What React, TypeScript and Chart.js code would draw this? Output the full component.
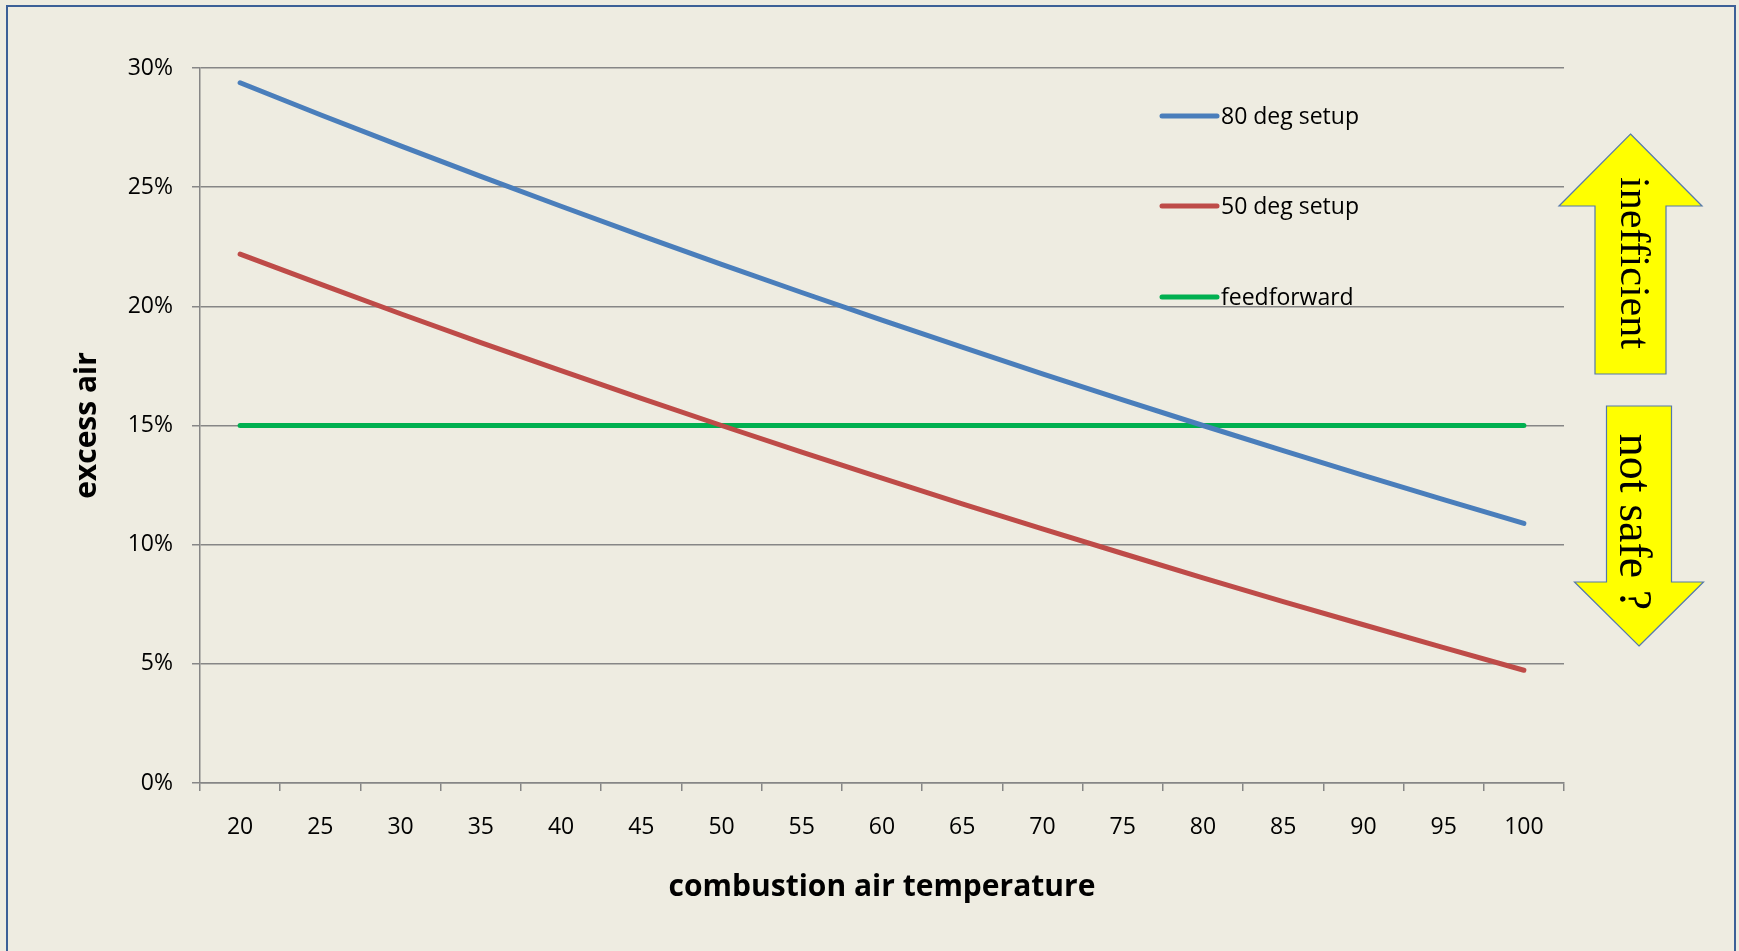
import React, { useEffect, useRef } from "react";
import { Chart, registerables } from "chart.js";

Chart.register(...registerables);

// ---- data ----
const temperatures = ["20", "25", "30", "35", "40", "45", "50", "55", "60", "65", "70", "75", "80", "85", "90", "95", "100"];
const setup80 = [29.38, 28.04, 26.73, 25.45, 24.2, 22.97, 21.76, 20.58, 19.42, 18.29, 17.17, 16.07, 15.0, 13.95, 12.91, 11.89, 10.89];
const setup50 = [22.19, 20.93, 19.69, 18.48, 17.3, 16.14, 15.0, 13.88, 12.79, 11.71, 10.66, 9.63, 8.61, 7.61, 6.64, 5.68, 4.73];
const feedforward = [15, 15, 15, 15, 15, 15, 15, 15, 15, 15, 15, 15, 15, 15, 15, 15, 15];
const seriesLabels = ["80 deg setup", "50 deg setup", "feedforward"];
const seriesColors = ["#4A7EBB", "#BE4B48", "#00B050"];
const yMin = 0;
const yMax = 30;
const yStep = 5;
const xTitle = "combustion air temperature";
const yTitle = "excess air";
const upArrowText = "inefficient";
const downArrowText = "not safe ?";

const SANS = '"Open Sans", "Noto Sans", sans-serif';
const SERIF = '"Liberation Serif", "DejaVu Serif", serif';

const legendPlugin = {
  id: "sideLegend",
  afterDraw(chart: any) {
    const { ctx, chartArea } = chart;
    const x0 = chartArea.left + 962;
    const x1 = chartArea.left + 1017;
    const tx = chartArea.left + 1021;
    const rows = [48, 138, 229];
    ctx.save();
    ctx.font = `23px ${SANS}`;
    ctx.textBaseline = "middle";
    ctx.textAlign = "left";
    chart.data.datasets.forEach((ds: any, i: number) => {
      const y = chartArea.top + rows[i];
      ctx.strokeStyle = ds.borderColor;
      ctx.lineWidth = 5;
      ctx.lineCap = "round";
      ctx.beginPath();
      ctx.moveTo(x0, y);
      ctx.lineTo(x1, y);
      ctx.stroke();
      ctx.fillStyle = "#000";
      ctx.fillText(ds.label, tx, y + 1);
    });
    ctx.restore();
  },
};

function drawArrow(ctx: any, cx: number, shaftHalf: number, headHalf: number, tipY: number, baseY: number, endY: number) {
  ctx.beginPath();
  ctx.moveTo(cx, tipY);
  ctx.lineTo(cx + headHalf, baseY);
  ctx.lineTo(cx + shaftHalf, baseY);
  ctx.lineTo(cx + shaftHalf, endY);
  ctx.lineTo(cx - shaftHalf, endY);
  ctx.lineTo(cx - shaftHalf, baseY);
  ctx.lineTo(cx - headHalf, baseY);
  ctx.closePath();
  ctx.fillStyle = "#FFFF00";
  ctx.fill();
  ctx.strokeStyle = "#5479AA";
  ctx.lineWidth = 1.2;
  ctx.stroke();
}

const arrowPlugin = {
  id: "arrows",
  afterDraw(chart: any) {
    const { ctx, chartArea } = chart;
    const L = chartArea.left;
    const T = chartArea.top;
    ctx.save();
    // up arrow
    drawArrow(ctx, L + 1430.5, 35.5, 71.5, T + 66, T + 138, T + 306);
    // down arrow
    drawArrow(ctx, L + 1439, 32.5, 64.5, T + 578, T + 514, T + 338);
    ctx.fillStyle = "#000";
    ctx.textAlign = "center";
    ctx.textBaseline = "alphabetic";
    ctx.save();
    ctx.translate(L + 1421, T + 195);
    ctx.rotate(Math.PI / 2);
    ctx.font = `42px ${SERIF}`;
    ctx.fillText(upArrowText, 0, 0);
    ctx.restore();
    ctx.save();
    ctx.translate(L + 1420, T + 454);
    ctx.rotate(Math.PI / 2);
    ctx.font = `46px ${SERIF}`;
    ctx.fillText(downArrowText, 0, 0);
    ctx.restore();
    ctx.restore();
  },
};

export default function App() {
  const canvasRef = useRef<HTMLCanvasElement | null>(null);

  useEffect(() => {
    const canvas = canvasRef.current;
    if (!canvas) return;
    const axisColor = "#868686";
    const chart = new Chart(canvas, {
      type: "line",
      data: {
        labels: temperatures,
        datasets: [
          { label: seriesLabels[0], data: setup80, borderColor: seriesColors[0], backgroundColor: seriesColors[0] },
          { label: seriesLabels[1], data: setup50, borderColor: seriesColors[1], backgroundColor: seriesColors[1] },
          { label: seriesLabels[2], data: feedforward, borderColor: seriesColors[2], backgroundColor: seriesColors[2] },
        ],
      },
      options: {
        responsive: false,
        animation: false,
        devicePixelRatio: 1,
        layout: { padding: { left: 0, top: 68, right: 175, bottom: 0 } },
        elements: {
          line: { borderWidth: 5, tension: 0, borderCapStyle: "round", borderJoinStyle: "round" },
          point: { radius: 0, hoverRadius: 0 },
        },
        plugins: {
          legend: { display: false },
          tooltip: { enabled: false },
          title: { display: false },
        },
        scales: {
          x: {
            type: "category",
            offset: true,
            grid: {
              offset: true,
              drawOnChartArea: false,
              drawTicks: true,
              tickLength: 8,
              color: axisColor,
              lineWidth: 1.5,
            },
            border: { display: true, color: axisColor, width: 1.5 },
            ticks: {
              color: "#000",
              font: { family: SANS, size: 23, lineHeight: 2.5 },
              padding: 8,
              maxRotation: 0,
              minRotation: 0,
              autoSkip: false,
            },
            title: {
              display: true,
              text: xTitle,
              color: "#000",
              font: { family: SANS, size: 30, weight: "bold" },
              padding: { top: 0, bottom: 46 },
            },
            afterFit(scale: any) {
              scale.height = 168;
            },
          },
          y: {
            type: "linear",
            min: yMin,
            max: yMax,
            grid: {
              color: axisColor,
              lineWidth: 1.5,
              drawTicks: true,
              tickLength: 8,
            },
            border: { display: true, color: axisColor, width: 1.5 },
            ticks: {
              stepSize: yStep,
              color: "#000",
              font: { family: SANS, size: 23 },
              padding: 19,
              callback: (v: any) => `${v}%`,
            },
            title: {
              display: true,
              text: yTitle,
              color: "#000",
              font: { family: SANS, size: 30, weight: "bold" },
              padding: { top: 69, bottom: 0 },
            },
            afterFit(scale: any) {
              scale.width = 200;
            },
          },
        },
      },
      plugins: [legendPlugin, arrowPlugin],
    });
    return () => chart.destroy();
  }, []);

  return (
    <div
      style={{
        position: "fixed",
        left: 0,
        top: 0,
        width: 1739,
        height: 951,
        background: "#EEECE1",
        overflow: "hidden",
      }}
    >
      <div
        style={{
          position: "absolute",
          left: 6,
          top: 5,
          width: 1730,
          height: 1000,
          border: "2px solid #3C6097",
          boxSizing: "border-box",
        }}
      />
      <canvas
        ref={canvasRef}
        width={1739}
        height={951}
        style={{ position: "absolute", left: 0, top: 0, width: 1739, height: 951 }}
      />
    </div>
  );
}
